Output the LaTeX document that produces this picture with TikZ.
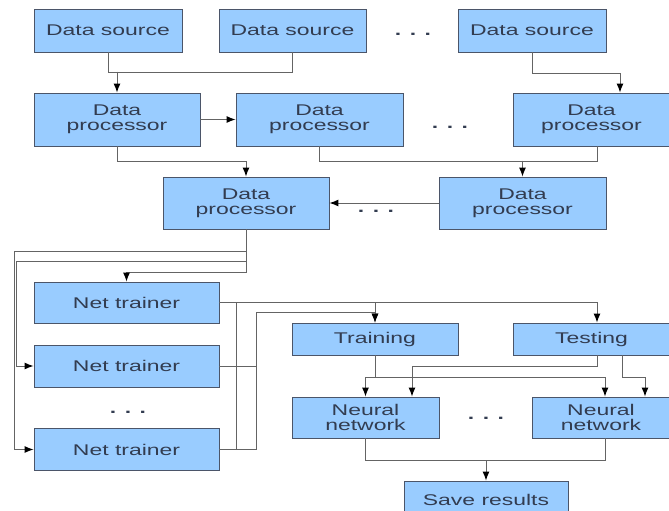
\documentclass[tikz,border=0pt]{standalone}
\usepackage{fontspec}
\usetikzlibrary{arrows.meta}
\newfontfamily\boxfont[FakeStretch=1.48]{Liberation Sans}
\definecolor{boxfill}{RGB}{153,204,255}
\definecolor{boxline}{RGB}{75,85,105}
\definecolor{boxtext}{RGB}{50,60,80}
\definecolor{wiregray}{RGB}{100,100,100}
\tikzset{
  box/.style={draw=boxline,fill=boxfill,line width=0.9pt,inner sep=0pt,
    align=center,text=boxtext,font=\boxfont\fontsize{15.5}{15}\selectfont},
  wire/.style={draw=wiregray,line width=1pt},
  arr/.style={wire,-{Latex[black,length=9pt,width=7pt]}},
  more/.style={text=boxtext,inner sep=0pt,font=\boxfont\fontsize{15.5}{15}\selectfont\bfseries}
}
\begin{document}
\begin{tikzpicture}[x=1pt,y=-1pt]
  \useasboundingbox (0,0) rectangle (669,511);

  % sources
  \node[box,minimum width=148pt,minimum height=43pt] (ds1) at (108,30.5) {Data source};
  \node[box,minimum width=147pt,minimum height=43pt] (ds2) at (292.5,30.5) {Data source};
  \node[box,minimum width=148pt,minimum height=43pt] (ds3) at (532,30.5) {Data source};
  \node[more] (dots1) at (413,34) {. . .};

  % processors
  \node[box,minimum width=166pt,minimum height=53pt] (p1) at (117,119.5) {Data\\processor};
  \node[box,minimum width=167pt,minimum height=53pt] (p2) at (319.5,119.5) {Data\\processor};
  \node[box,minimum width=157pt,minimum height=53pt] (p3) at (591.5,119.5) {Data\\processor};
  \node[more] (dots2) at (450,127) {. . .};
  \node[box,minimum width=166pt,minimum height=52pt] (p4) at (246,203) {Data\\processor};
  \node[box,minimum width=167pt,minimum height=52pt] (p5) at (522.5,203) {Data\\processor};
  \node[more] (dots3) at (376,211) {. . .};

  % trainers
  \node[box,minimum width=185pt,minimum height=41pt] (nt1) at (126.5,302.5) {Net trainer};
  \node[box,minimum width=185pt,minimum height=42pt] (nt2) at (126.5,366) {Net trainer};
  \node[more] (dots4) at (128,412) {. . .};
  \node[box,minimum width=185pt,minimum height=42pt] (nt3) at (126.5,449.5) {Net trainer};

  \node[box,minimum width=166pt,minimum height=32pt] (train) at (375,339) {Training};
  \node[box,minimum width=157pt,minimum height=32pt] (test) at (591.5,339) {Testing};
  \node[box,minimum width=147pt,minimum height=41pt] (nn1) at (365.5,417.5) {Neural\\network};
  \node[box,minimum width=138pt,minimum height=41pt] (nn2) at (601,417.5) {Neural\\network};
  \node[more] (dots5) at (486,418) {. . .};
  \node[box,minimum width=164pt,minimum height=38pt] (save) at (486,500) {Save results};

  % top part
  \draw[wire] (ds1.south) -- ++(0,20) -| (ds2.south);
  \draw[arr] (p1.north) ++(0,-21) -- (p1.north);
  \draw[arr] (ds3.south) -- ++(0,21) -| ([xshift=28.5pt]p3.north);
  \draw[arr] (p1) -- (p2);
  \draw[arr] (p1.south) -- ++(0,15) -| (p4.north);
  \draw[wire] (p2.south) -- ++(0,15) -| ([xshift=5.5pt]p3.south);
  \draw[arr] (p5.north) ++(0,-16) -- (p5.north);
  \draw[arr] (p5) -- (p4);

  % to the trainers
  \draw[arr] (p4.south) -- ++(0,43) -| (nt1.north);
  \draw[arr] (p4.south) -- ++(0,22) -| ([xshift=-19pt]nt3.west) -- (nt3.west);
  \draw[arr] (p4.south) -- ++(0,32) -| ([xshift=-17pt]nt2.west) -- (nt2.west);

  % trainers to training / testing
  \draw[arr] (nt1.east) -| ([xshift=5.5pt]test.north);
  \draw[arr] (train.north |- nt1.east) -- (train.north);
  \draw[wire] (nt3.east) -- ++(17,0) -- ([xshift=17pt]nt1.east);
  \draw[arr] (nt3.east) -- ++(37,0) |- ([yshift=10pt]train.north) -- (train.north);
  \draw[wire] (nt2.east) -- ++(37,0);

  % networks
  \draw[arr] (train.south) -- ++(0,22) -| (nn1.north);
  \draw[arr] (train.south) -- ++(0,22) -| ([xshift=4pt]nn2.north);
  \draw[arr] ([xshift=5.5pt]test.south) -- ++(0,11) -| ([xshift=46.5pt]nn1.north);
  \draw[arr] ([xshift=30.5pt]test.south) -- ++(0,22) -| ([xshift=44pt]nn2.north);
  \draw[arr] (nn1.south) -- ++(0,22) -| (save.north);
  \draw[wire] ([xshift=4pt]nn2.south) -- ++(0,22) -- ([yshift=-22pt]nn1.south);
\end{tikzpicture}
\end{document}
